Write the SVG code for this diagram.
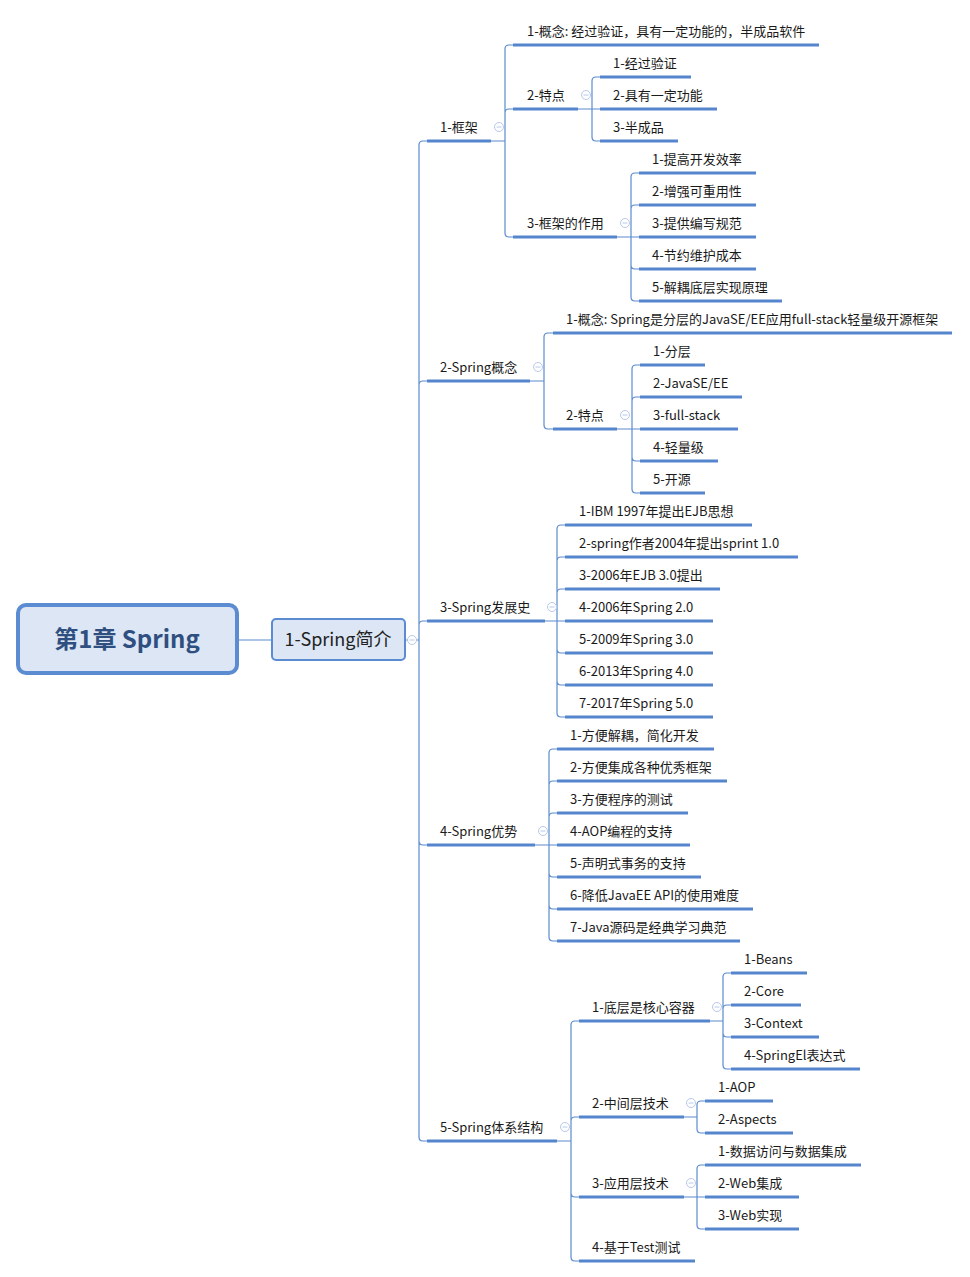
<svg xmlns="http://www.w3.org/2000/svg" width="970" height="1277" viewBox="0 0 970 1277">
<style>
text{font-family:"Microsoft YaHei","Noto Sans CJK SC","Noto Sans",sans-serif;font-size:13px;fill:#1a1a1a}
.ul{stroke:#5585cc;stroke-width:3;fill:none}
.c{stroke:#5b8bd0;stroke-width:1.2;fill:none}
.col{stroke:#b9c9e8;stroke-width:1;fill:#fff}
</style>
<defs><g id="m"><circle r="4.5" class="col"/><line x1="-2.5" x2="2.5" stroke="#b9c9e8"/></g></defs>
<rect width="970" height="1277" fill="#fff"/>
<g id="connectors">
<path class="c" d="M237,640 H272"/>
<path class="c" d="M405,640 H419 V145 Q419,141 423,141 H427 M419,385 Q419,381 423,381 H427 M419,625 Q419,621 423,621 H427 M419,640 V1137 Q419,1141 423,1141 H427 M419,841 Q419,845 423,845 H427"/>
<path class="c" d="M491,141 H505 V49 Q505,45 509,45 H513 M505,113 Q505,109 509,109 H513 M505,141 V233 Q505,237 509,237 H513"/>
<path class="c" d="M578,109 H592 V81 Q592,77 596,77 H600 M592,109 H600 M592,109 V137 Q592,141 596,141 H600"/>
<path class="c" d="M617,237 H631 V177 Q631,173 635,173 H639 M631,209 Q631,205 635,205 H639 M631,237 H639 M631,237 V297 Q631,301 635,301 H639 M631,265 Q631,269 635,269 H639"/>
<path class="c" d="M530,381 H544 V337 Q544,333 548,333 H553 M544,381 V425 Q544,429 548,429 H553"/>
<path class="c" d="M617,429 H632 V369 Q632,365 636,365 H640 M632,401 Q632,397 636,397 H640 M632,429 H640 M632,429 V489 Q632,493 636,493 H640 M632,457 Q632,461 636,461 H640"/>
<path class="c" d="M545,621 H557 V529 Q557,525 561,525 H565 M557,561 Q557,557 561,557 H565 M557,593 Q557,589 561,589 H565 M557,621 H565 M557,621 V713 Q557,717 561,717 H565 M557,649 Q557,653 561,653 H565 M557,681 Q557,685 561,685 H565"/>
<path class="c" d="M535,845 H549 V753 Q549,749 553,749 H557 M549,785 Q549,781 553,781 H557 M549,817 Q549,813 553,813 H557 M549,845 H557 M549,845 V937 Q549,941 553,941 H557 M549,873 Q549,877 553,877 H557 M549,905 Q549,909 553,909 H557"/>
<path class="c" d="M557,1141 H571 V1025 Q571,1021 575,1021 H579 M571,1121 Q571,1117 575,1117 H579 M571,1141 V1257 Q571,1261 575,1261 H579 M571,1193 Q571,1197 575,1197 H579"/>
<path class="c" d="M710,1021 H723 V977 Q723,973 727,973 H731 M723,1009 Q723,1005 727,1005 H731 M723,1021 V1065 Q723,1069 727,1069 H731 M723,1033 Q723,1037 727,1037 H731"/>
<path class="c" d="M684,1117 H697 V1105 Q697,1101 701,1101 H705 M697,1117 V1129 Q697,1133 701,1133 H705"/>
<path class="c" d="M684,1197 H697 V1169 Q697,1165 701,1165 H705 M697,1197 H705 M697,1197 V1225 Q697,1229 701,1229 H705"/>
</g>
<g id="root"><rect x="18" y="605" width="219" height="68" rx="8" fill="#dce6f4" stroke="#5b8bd0" stroke-width="4"/><text x="127" y="648" text-anchor="middle" style="font-size:24px;font-weight:bold;fill:#2f4f80">第1章 Spring</text></g>
<g id="n-intro"><rect x="272" y="619" width="133" height="41" rx="4" fill="#dce6f4" stroke="#5b8bd0" stroke-width="2"/><text x="338" y="646" text-anchor="middle" style="font-size:18px;fill:#222">1-Spring简介</text><use href="#m" x="412" y="640"/></g>
<g id="n1"><text x="440" y="132">1-框架</text><path class="ul" d="M427,141H491"/><use href="#m" x="499" y="127"/></g>
<g id="n1-1"><text x="527" y="36">1-概念: 经过验证，具有一定功能的，半成品软件</text><path class="ul" d="M513,45H819"/></g>
<g id="n1-2"><text x="527" y="100">2-特点</text><path class="ul" d="M513,109H578"/><use href="#m" x="586" y="95"/></g>
<g id="n1-2-1"><text x="613" y="68">1-经过验证</text><path class="ul" d="M600,77H691"/></g>
<g id="n1-2-2"><text x="613" y="100">2-具有一定功能</text><path class="ul" d="M600,109H717"/></g>
<g id="n1-2-3"><text x="613" y="132">3-半成品</text><path class="ul" d="M600,141H678"/></g>
<g id="n1-3"><text x="527" y="228">3-框架的作用</text><path class="ul" d="M513,237H617"/><use href="#m" x="625" y="223"/></g>
<g id="n1-3-1"><text x="652" y="164">1-提高开发效率</text><path class="ul" d="M639,173H756"/></g>
<g id="n1-3-2"><text x="652" y="196">2-增强可重用性</text><path class="ul" d="M639,205H756"/></g>
<g id="n1-3-3"><text x="652" y="228">3-提供编写规范</text><path class="ul" d="M639,237H756"/></g>
<g id="n1-3-4"><text x="652" y="260">4-节约维护成本</text><path class="ul" d="M639,269H756"/></g>
<g id="n1-3-5"><text x="652" y="292">5-解耦底层实现原理</text><path class="ul" d="M639,301H782"/></g>
<g id="n2"><text x="440" y="372">2-Spring概念</text><path class="ul" d="M427,381H530"/><use href="#m" x="538" y="367"/></g>
<g id="n2-1"><text x="566" y="324">1-概念: Spring是分层的JavaSE/EE应用full-stack轻量级开源框架</text><path class="ul" d="M553,333H952"/></g>
<g id="n2-2"><text x="566" y="420">2-特点</text><path class="ul" d="M553,429H617"/><use href="#m" x="625" y="415"/></g>
<g id="n2-2-1"><text x="653" y="356">1-分层</text><path class="ul" d="M640,365H705"/></g>
<g id="n2-2-2"><text x="653" y="388">2-JavaSE/EE</text><path class="ul" d="M640,397H742"/></g>
<g id="n2-2-3"><text x="653" y="420">3-full-stack</text><path class="ul" d="M640,429H738"/></g>
<g id="n2-2-4"><text x="653" y="452">4-轻量级</text><path class="ul" d="M640,461H718"/></g>
<g id="n2-2-5"><text x="653" y="484">5-开源</text><path class="ul" d="M640,493H705"/></g>
<g id="n3"><text x="440" y="612">3-Spring发展史</text><path class="ul" d="M427,621H545"/><use href="#m" x="552" y="607"/></g>
<g id="n3-1"><text x="579" y="516">1-IBM 1997年提出EJB思想</text><path class="ul" d="M565,525H752"/></g>
<g id="n3-2"><text x="579" y="548">2-spring作者2004年提出sprint 1.0</text><path class="ul" d="M565,557H798"/></g>
<g id="n3-3"><text x="579" y="580">3-2006年EJB 3.0提出</text><path class="ul" d="M565,589H720"/></g>
<g id="n3-4"><text x="579" y="612">4-2006年Spring 2.0</text><path class="ul" d="M565,621H713"/></g>
<g id="n3-5"><text x="579" y="644">5-2009年Spring 3.0</text><path class="ul" d="M565,653H713"/></g>
<g id="n3-6"><text x="579" y="676">6-2013年Spring 4.0</text><path class="ul" d="M565,685H713"/></g>
<g id="n3-7"><text x="579" y="708">7-2017年Spring 5.0</text><path class="ul" d="M565,717H713"/></g>
<g id="n4"><text x="440" y="836">4-Spring优势</text><path class="ul" d="M427,845H535"/><use href="#m" x="543" y="831"/></g>
<g id="n4-1"><text x="570" y="740">1-方便解耦，简化开发</text><path class="ul" d="M557,749H714"/></g>
<g id="n4-2"><text x="570" y="772">2-方便集成各种优秀框架</text><path class="ul" d="M557,781H727"/></g>
<g id="n4-3"><text x="570" y="804">3-方便程序的测试</text><path class="ul" d="M557,813H688"/></g>
<g id="n4-4"><text x="570" y="836">4-AOP编程的支持</text><path class="ul" d="M557,845H690"/></g>
<g id="n4-5"><text x="570" y="868">5-声明式事务的支持</text><path class="ul" d="M557,877H701"/></g>
<g id="n4-6"><text x="570" y="900">6-降低JavaEE API的使用难度</text><path class="ul" d="M557,909H753"/></g>
<g id="n4-7"><text x="570" y="932">7-Java源码是经典学习典范</text><path class="ul" d="M557,941H740"/></g>
<g id="n5"><text x="440" y="1132">5-Spring体系结构</text><path class="ul" d="M427,1141H557"/><use href="#m" x="565" y="1127"/></g>
<g id="n5-1"><text x="592" y="1012">1-底层是核心容器</text><path class="ul" d="M579,1021H710"/><use href="#m" x="717" y="1007"/></g>
<g id="n5-1-1"><text x="744" y="964">1-Beans</text><path class="ul" d="M731,973H807"/></g>
<g id="n5-1-2"><text x="744" y="996">2-Core</text><path class="ul" d="M731,1005H801"/></g>
<g id="n5-1-3"><text x="744" y="1028">3-Context</text><path class="ul" d="M731,1037H819"/></g>
<g id="n5-1-4"><text x="744" y="1060">4-SpringEl表达式</text><path class="ul" d="M731,1069H860"/></g>
<g id="n5-2"><text x="592" y="1108">2-中间层技术</text><path class="ul" d="M579,1117H684"/><use href="#m" x="691" y="1103"/></g>
<g id="n5-2-1"><text x="718" y="1092">1-AOP</text><path class="ul" d="M705,1101H773"/></g>
<g id="n5-2-2"><text x="718" y="1124">2-Aspects</text><path class="ul" d="M705,1133H793"/></g>
<g id="n5-3"><text x="592" y="1188">3-应用层技术</text><path class="ul" d="M579,1197H684"/><use href="#m" x="691" y="1183"/></g>
<g id="n5-3-1"><text x="718" y="1156">1-数据访问与数据集成</text><path class="ul" d="M705,1165H861"/></g>
<g id="n5-3-2"><text x="718" y="1188">2-Web集成</text><path class="ul" d="M705,1197H799"/></g>
<g id="n5-3-3"><text x="718" y="1220">3-Web实现</text><path class="ul" d="M705,1229H799"/></g>
<g id="n5-4"><text x="592" y="1252">4-基于Test测试</text><path class="ul" d="M579,1261H695"/></g>
</svg>
